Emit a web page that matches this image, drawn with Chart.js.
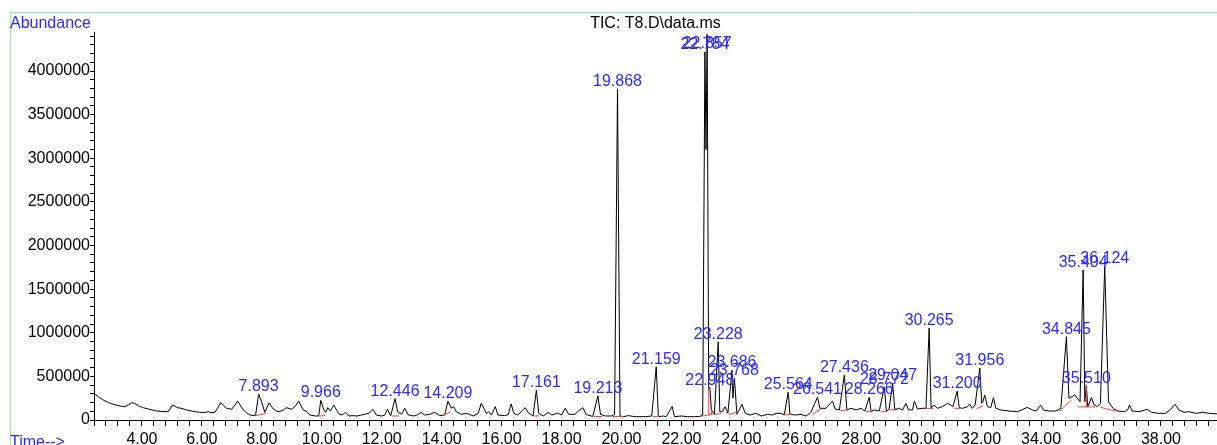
<!DOCTYPE html>
<html>
<head>
<meta charset="utf-8">
<title>TIC: T8.D\data.ms</title>
<script src="https://cdn.jsdelivr.net/npm/chart.js@4/dist/chart.umd.min.js"></script>
<style>
  html, body { margin: 0; padding: 0; background: #ffffff; }
  #wrap { width: 1217px; height: 445px; position: relative; }
</style>
</head>
<body>
<div id="wrap"><canvas id="tic" width="1217" height="445"></canvas></div>
<script>
// ---- Chromatogram data (retention time in minutes, abundance in counts) ----
const chartTitle = 'TIC: T8.D\\data.ms';
const yAxisTitle = 'Abundance';
const xAxisTitle = 'Time-->';

// Trace points between the integrated peaks
const traceRT = [
  2.40, 2.55, 2.71, 2.88, 3.04, 3.27, 3.43, 3.55, 3.66, 3.76, 3.88, 4.05, 4.21, 4.49, 4.70, 4.88,
  5.02, 5.10, 5.18, 5.30, 5.49, 5.70, 5.93, 6.10, 6.21, 6.30, 6.43, 6.55, 6.62, 6.72, 6.82, 6.99,
  7.10, 7.19, 7.28, 7.38, 7.50, 7.60, 7.79, 7.99, 8.10, 8.24, 8.38, 8.54, 8.70, 8.82, 9.00, 9.12,
  9.23, 9.38, 9.50, 9.60, 9.79, 9.90, 10.07, 10.13, 10.20, 10.29, 10.40, 10.50, 10.58, 10.70, 10.78,
  10.90, 11.05, 11.18, 11.30, 11.42, 11.57, 11.71, 11.82, 11.99, 12.10, 12.19, 12.30, 12.53, 12.66,
  12.77, 12.88, 13.06, 13.20, 13.32, 13.43, 13.60, 13.77, 13.93, 14.10, 14.32, 14.40, 14.49, 14.66,
  14.83, 14.95, 15.06, 15.22, 15.32, 15.41, 15.49, 15.57, 15.66, 15.79, 15.88, 16.10, 16.22, 16.32,
  16.41, 16.54, 16.71, 16.79, 16.88, 17.05, 17.24, 17.39, 17.56, 17.67, 17.87, 18.00, 18.12, 18.24,
  18.43, 18.57, 18.71, 18.82, 19.04, 19.30, 19.46, 19.68, 19.77, 19.95, 20.06, 20.23, 20.46, 20.79,
  21.01, 21.23, 21.40, 21.49, 21.69, 21.77, 22.00, 22.21, 22.43, 22.60, 22.71, 22.82, 22.91, 23.00,
  23.10, 23.28, 23.37, 23.46, 23.55, 23.72, 23.85, 24.02, 24.13, 24.29, 24.49, 24.66, 24.88, 25.04,
  25.16, 25.32, 25.43, 25.62, 25.82, 25.99, 26.16, 26.32, 26.62, 26.82, 27.04, 27.13, 27.27, 27.52,
  27.66, 27.83, 27.99, 28.12, 28.33, 28.43, 28.60, 28.84, 28.93, 29.12, 29.27, 29.38, 29.49, 29.58,
  29.71, 29.77, 29.88, 30.04, 30.16, 30.33, 30.43, 30.54, 30.71, 30.88, 30.99, 31.06, 31.27, 31.38,
  31.55, 31.62, 31.71, 31.80, 32.02, 32.06, 32.12, 32.21, 32.32, 32.41, 32.49, 32.66, 32.93, 33.21,
  33.40, 33.54, 33.71, 33.84, 33.99, 34.07, 34.27, 34.49, 34.66, 34.93, 35.04, 35.12, 35.21, 35.30,
  35.46, 35.56, 35.68, 35.77, 35.88, 35.98, 36.25, 36.40, 36.56, 36.78, 36.89, 36.95, 37.04, 37.27,
  37.54, 37.69, 37.93, 38.16, 38.32, 38.47, 38.60, 38.77, 38.93, 39.16, 39.38, 39.60, 39.87
];
const traceAbundance = [
  306000, 265000, 229000, 200000, 180000, 160000, 152000, 175000, 198000, 190000, 164000, 140000, 126000, 103000, 97000, 95000,
  172000, 160000, 141000, 135000, 115000, 100000, 88000, 86000, 95000, 86000, 88000, 150000, 198000, 170000, 134000, 123000,
  170000, 218000, 170000, 115000, 80000, 57000, 50000, 210000, 88000, 198000, 126000, 95000, 110000, 141000, 122000, 160000,
  218000, 115000, 95000, 57000, 46000, 50000, 115000, 88000, 141000, 103000, 172000, 110000, 65000, 60000, 88000,
  46000, 50000, 46000, 55000, 65000, 76000, 122000, 57000, 46000, 55000, 122000, 50000, 95000, 65000,
  134000, 60000, 46000, 60000, 88000, 57000, 65000, 88000, 50000, 57000, 134000, 153000, 95000, 65000,
  76000, 60000, 46000, 76000, 191000, 134000, 76000, 95000, 57000, 153000, 57000, 50000, 60000, 183000,
  76000, 57000, 115000, 141000, 88000, 46000, 76000, 46000, 88000, 57000, 80000, 57000, 134000, 65000,
  65000, 103000, 141000, 65000, 40000, 65000, 46000, 46000, 65000, 46000, 38000, 50000, 38000, 38000,
  46000, 38000, 46000, 38000, 155000, 38000, 46000, 38000, 38000, 40000, 57000, 3100000, 360000, 115000,
  65000, 95000, 95000, 153000, 76000, 250000, 65000, 180000, 76000, 57000, 76000, 46000, 65000, 57000,
  76000, 76000, 57000, 65000, 57000, 65000, 46000, 88000, 134000, 134000, 218000, 126000, 115000, 115000,
  134000, 115000, 134000, 103000, 95000, 115000, 103000, 95000, 126000, 115000, 134000, 115000, 191000, 115000,
  115000, 218000, 126000, 134000, 134000, 134000, 172000, 134000, 153000, 191000, 172000, 153000, 141000, 134000,
  153000, 180000, 134000, 172000, 191000, 210000, 287000, 153000, 141000, 256000, 134000, 115000, 103000, 95000,
  122000, 145000, 115000, 103000, 172000, 115000, 103000, 103000, 134000, 249000, 268000, 291000, 249000, 210000,
  210000, 153000, 256000, 172000, 153000, 190000, 210000, 134000, 103000, 95000, 115000, 172000, 103000, 95000,
  122000, 88000, 76000, 76000, 122000, 180000, 115000, 88000, 95000, 76000, 88000, 76000, 70000
];

// Integrated peaks: apex retention time and abundance (labelled with the retention time)
const peakRT = [
  7.893, 9.966, 12.446, 14.209, 17.161, 19.213, 19.868, 21.159, 22.784, 22.857, 22.948, 23.228, 23.686,
  23.768, 25.564, 26.541, 27.436, 28.266, 28.772, 29.047, 30.265, 31.200, 31.956, 34.845, 35.404, 35.510, 36.124
];
const peakAbundance = [
  298000, 225000, 245000, 215000, 344000, 275000, 3790000, 610000, 4220000, 4420000, 370000, 897000, 570000,
  482000, 320000, 262000, 516000, 260000, 378000, 425000, 1052000, 330000, 596000, 955000, 1720000, 395000, 1760000
];

// Integration baselines (start / end of each integrated region)
const baseStartRT  = [7.77, 9.82, 12.33, 14.06, 17.06, 19.08, 19.72, 21.04, 22.62, 23.12, 23.58, 25.44, 26.36, 27.30, 28.14, 28.64, 28.96, 30.14, 31.08, 31.84, 34.62, 35.22, 35.98];
const baseStartAb  = [48000, 42000, 46000, 55000, 44000, 40000, 40000, 40000, 40000, 62000, 62000, 58000, 58000, 108000, 100000, 92000, 112000, 128000, 138000, 128000, 100000, 150000, 145000];
const baseEndRT    = [8.14, 10.12, 12.58, 14.30, 17.26, 19.36, 20.06, 21.26, 23.06, 23.32, 23.86, 25.66, 26.66, 27.56, 28.36, 28.86, 29.20, 30.40, 31.30, 32.04, 35.02, 35.80, 36.52];
const baseEndAb    = [76000, 52000, 46000, 95000, 48000, 40000, 38000, 38000, 70000, 75000, 90000, 62000, 130000, 115000, 92000, 100000, 132000, 132000, 128000, 160000, 230000, 150000, 100000];

// Drop lines separating co-eluting peaks
const dropRT   = [22.91, 23.00, 35.510];
const dropFrom = [52000, 58000, 150000];
const dropTo   = [360000, 115000, 395000];

// Axis ticks
const xRange = [2.4, 39.87];
const xMinorStep = 0.4;
const xMajorTicks = [4, 6, 8, 10, 12, 14, 16, 18, 20, 22, 24, 26, 28, 30, 32, 34, 36, 38];
const yRange = [0, 4447000];
const yMinorStep = 100000;
const yMajorTicks = [0, 500000, 1000000, 1500000, 2000000, 2500000, 3000000, 3500000, 4000000];

// ---- Styling ----
const FONT_FAMILY = '"Liberation Sans", Arial, Helvetica, sans-serif';
const LABEL_BLUE = '#2b2bff';
const BASELINE_RED = '#ff3c3c';
const FRAME_GREEN = '#98ee98';

// Trace = inter-peak points plus peak apexes, in time order
const tracePoints = traceRT.map((t, i) => ({ x: t, y: traceAbundance[i] }))
  .concat(peakRT.map((t, i) => ({ x: t, y: peakAbundance[i] })))
  .sort((a, b) => a.x - b.x);

const redDatasets = [];
baseStartRT.forEach((t, i) => {
  redDatasets.push({
    data: [{ x: t, y: baseStartAb[i] }, { x: baseEndRT[i], y: baseEndAb[i] }],
    borderColor: BASELINE_RED, borderWidth: 1, pointRadius: 0, order: 0
  });
});
dropRT.forEach((t, i) => {
  redDatasets.push({
    data: [{ x: t, y: dropFrom[i] }, { x: t, y: dropTo[i] }],
    borderColor: BASELINE_RED, borderWidth: 1, pointRadius: 0, order: 0
  });
});

function stepTicks(lo, hi, step) {
  const out = [];
  for (let k = 0; lo + k * step <= hi + 1e-9; k++) {
    out.push({ value: Math.round((lo + k * step) * 1000) / 1000 });
  }
  return out;
}
const isMajor = (list, v) => list.some(m => Math.abs(m - v) < 1e-6);

// Frame, titles and peak labels
const decorPlugin = {
  id: 'ticDecor',
  beforeDraw(chart) {
    const ctx = chart.ctx;
    ctx.save();
    ctx.strokeStyle = FRAME_GREEN;
    ctx.lineWidth = 1;
    ctx.beginPath();
    ctx.moveTo(10.5, chart.height);
    ctx.lineTo(10.5, 12.5);
    ctx.lineTo(chart.width, 12.5);
    ctx.stroke();
    ctx.restore();
  },
  afterDraw(chart) {
    const { ctx, chartArea } = chart;
    const xs = chart.scales.x, ys = chart.scales.y;
    ctx.save();
    ctx.font = '16px ' + FONT_FAMILY;
    ctx.textBaseline = 'alphabetic';

    ctx.fillStyle = '#000000';
    ctx.textAlign = 'center';
    ctx.fillText(chartTitle, (chartArea.left + chartArea.right) / 2, 28);

    ctx.fillStyle = LABEL_BLUE;
    ctx.textAlign = 'left';
    ctx.fillText(yAxisTitle, 10, 27.5);
    ctx.fillText(xAxisTitle, 10, 447);

    ctx.textAlign = 'center';
    peakRT.forEach((t, i) => {
      const px = xs.getPixelForValue(t);
      const py = Math.max(ys.getPixelForValue(peakAbundance[i]) - 3, 48);
      ctx.fillText(t.toFixed(3), px, py);
    });
    ctx.restore();
  }
};

new Chart(document.getElementById('tic'), {
  type: 'line',
  data: {
    datasets: [
      {
        data: tracePoints,
        borderColor: '#000000',
        borderWidth: 1,
        pointRadius: 0,
        tension: 0,
        order: 1
      },
      ...redDatasets
    ]
  },
  options: {
    responsive: false,
    animation: false,
    devicePixelRatio: 1,
    parsing: false,
    layout: { padding: { left: 10, top: 32, right: 0, bottom: 0 } },
    plugins: { legend: { display: false }, tooltip: { enabled: false }, title: { display: false } },
    events: [],
    scales: {
      x: {
        type: 'linear',
        position: 'bottom',
        min: xRange[0],
        max: xRange[1],
        afterBuildTicks(scale) { scale.ticks = stepTicks(xRange[0], xRange[1], xMinorStep); },
        afterFit(scale) { scale.height = 25; },
        grid: { display: true, drawOnChartArea: false, drawTicks: true, tickLength: 6, tickColor: '#000000', tickWidth: 1 },
        border: { display: true, color: '#000000', width: 1 },
        ticks: {
          autoSkip: false, maxRotation: 0, minRotation: 0, padding: 4, color: '#000000',
          font: { family: FONT_FAMILY, size: 16 },
          callback: (v) => isMajor(xMajorTicks, v) ? v.toFixed(2) : ''
        }
      },
      y: {
        type: 'linear',
        position: 'left',
        min: yRange[0],
        max: yRange[1],
        afterBuildTicks(scale) { scale.ticks = stepTicks(yRange[0], yRange[1], yMinorStep); },
        afterFit(scale) { scale.width = 84; },
        grid: { display: true, drawOnChartArea: false, drawTicks: true, tickLength: 4, tickColor: '#000000', tickWidth: 1 },
        border: { display: true, color: '#000000', width: 1 },
        ticks: {
          autoSkip: false, padding: 0, color: '#000000',
          font: { family: FONT_FAMILY, size: 16 },
          callback: (v) => isMajor(yMajorTicks, v) ? String(v) : ''
        }
      }
    }
  },
  plugins: [decorPlugin]
});
</script>
</body>
</html>
